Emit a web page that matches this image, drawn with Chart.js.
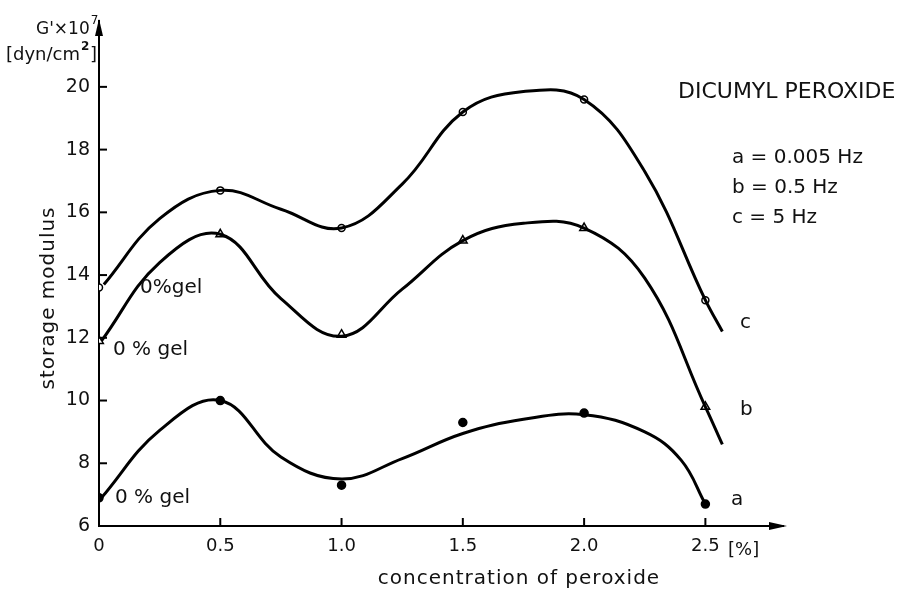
<!DOCTYPE html>
<html>
<head>
<meta charset="utf-8">
<script src="https://cdn.jsdelivr.net/npm/chart.js@4.4.1/dist/chart.umd.min.js"></script>
<style>
html, body { margin: 0; padding: 0; background: #fff; }
</style>
</head>
<body>
<canvas id="chart" width="898" height="590"></canvas>
<script>
// measured points (x = peroxide %, y = G' x 1e7 dyn/cm2)
const concentration = [0, 0.5, 1.0, 1.5, 2.0, 2.5];
const pointsA = [6.9, 10.0, 7.3, 9.3, 9.6, 6.7];
const pointsB = [11.9, 15.3, 12.1, 15.1, 15.5, 9.8];
const pointsC = [13.6, 16.7, 15.5, 19.2, 19.6, 13.2];

// hand drawn curves
const curveAX = [0.01, 0.25, 0.5, 0.75, 1.0, 1.25, 1.5, 1.75, 2.0, 2.25, 2.4, 2.5];
const curveAY = [6.9, 9.05, 10.0, 8.2, 7.5, 8.15, 8.95, 9.4, 9.55, 9.0, 8.1, 6.7];
const curveBX = [0.01, 0.25, 0.5, 0.75, 1.0, 1.25, 1.5, 1.75, 2.0, 2.25, 2.5, 2.57];
const curveBY = [11.9, 14.4, 15.3, 13.25, 12.05, 13.55, 15.1, 15.65, 15.5, 13.9, 9.8, 8.6];
const curveCX = [0.02, 0.25, 0.5, 0.75, 1.0, 1.25, 1.5, 1.75, 2.0, 2.25, 2.5, 2.57];
const curveCY = [13.7, 15.8, 16.7, 16.1, 15.5, 16.9, 19.2, 19.85, 19.6, 17.3, 13.2, 12.2];

const xTicks = [0, 0.5, 1.0, 1.5, 2.0, 2.5];
const xTickLabels = ['0', '0.5', '1.0', '1.5', '2.0', '2.5'];
const yTicks = [6, 8, 10, 12, 14, 16, 18, 20];

const FONT = "'DejaVu Sans', sans-serif";
Chart.defaults.font.family = FONT;
Chart.defaults.color = '#111';

function pairs(xs, ys) {
    return xs.map((x, i) => ({ x: x, y: ys[i] }));
}

function curve(xs, ys) {
    return {
        data: pairs(xs, ys),
        showLine: true,
        borderColor: '#000',
        borderWidth: 3,
        pointRadius: 0,
        tension: 0.4
    };
}

function marks(ys, style, fill, r) {
    return {
        data: pairs(concentration, ys),
        showLine: false,
        pointStyle: style,
        pointRadius: r,
        backgroundColor: fill,
        borderColor: '#000',
        borderWidth: 1.5
    };
}

const extras = {
    id: 'extras',
    afterDraw(chart) {
        const ctx = chart.ctx;
        const area = chart.chartArea;
        const xs = chart.scales.x;
        const ys = chart.scales.y;
        ctx.save();
        ctx.strokeStyle = '#000';
        ctx.fillStyle = '#000';
        ctx.lineWidth = 2;

        // inner ticks
        yTicks.forEach(v => {
            const y = ys.getPixelForValue(v);
            ctx.beginPath();
            ctx.moveTo(area.left, y);
            ctx.lineTo(area.left + 8, y);
            ctx.stroke();
        });
        xTicks.forEach(v => {
            const x = xs.getPixelForValue(v);
            ctx.beginPath();
            ctx.moveTo(x, area.bottom + 1);
            ctx.lineTo(x, area.bottom - 8);
            ctx.stroke();
        });

        // arrows
        ctx.beginPath();
        ctx.moveTo(area.left, area.top - 2);
        ctx.lineTo(area.left - 4, area.top + 15);
        ctx.lineTo(area.left + 4, area.top + 15);
        ctx.fill();
        ctx.beginPath();
        ctx.moveTo(area.right + 4, area.bottom);
        ctx.lineTo(area.right - 14, area.bottom - 4);
        ctx.lineTo(area.right - 14, area.bottom + 4);
        ctx.fill();

        ctx.fillStyle = '#111';
        ctx.textBaseline = 'alphabetic';
        ctx.textAlign = 'left';

        // y unit
        ctx.font = '17px ' + FONT;
        ctx.fillText("G'×10", 36, 34);
        let w = ctx.measureText("G'×10").width;
        ctx.font = '12px ' + FONT;
        ctx.fillText('7', 36 + w + 1, 24);
        ctx.font = '18px ' + FONT;
        ctx.fillText('[dyn/cm', 6, 60);
        w = ctx.measureText('[dyn/cm').width;
        ctx.font = 'bold 12px ' + FONT;
        ctx.fillText('2', 6 + w + 1, 50);
        ctx.font = '18px ' + FONT;
        ctx.fillText(']', 6 + w + 10, 60);

        ctx.textBaseline = 'middle';
        ctx.font = '20px ' + FONT;
        ctx.letterSpacing = '1px';
        // axis titles
        ctx.save();
        ctx.translate(49, 298);
        ctx.rotate(-Math.PI / 2);
        ctx.textAlign = 'center';
        ctx.fillText('storage modulus', 0, 0);
        ctx.restore();

        ctx.textAlign = 'center';
        ctx.fillText('concentration of peroxide', 519, 579);

        ctx.letterSpacing = '0px';
        ctx.textAlign = 'left';
        ctx.font = '18px ' + FONT;
        ctx.fillText('[%]', 728, 550);

        ctx.font = '22px ' + FONT;
        ctx.fillText('DICUMYL PEROXIDE', 678, 92);

        ctx.font = '20px ' + FONT;
        ctx.fillText('a = 0.005 Hz', 732, 158);
        ctx.fillText('b = 0.5 Hz', 732, 188);
        ctx.fillText('c = 5 Hz', 732, 218);

        ctx.fillText('c', 740, 323);
        ctx.fillText('b', 740, 410);
        ctx.fillText('a', 731, 500);

        ctx.fillText('0%gel', 140, 288);
        ctx.fillText('0 % gel', 113, 350);
        ctx.fillText('0 % gel', 115, 498);

        ctx.restore();
    }
};

new Chart(document.getElementById('chart'), {
    type: 'scatter',
    data: {
        datasets: [
            curve(curveAX, curveAY),
            curve(curveBX, curveBY),
            curve(curveCX, curveCY),
            marks(pointsA, 'circle', '#000', 4),
            marks(pointsB, 'triangle', '#fff', 5),
            marks(pointsC, 'circle', '#fff', 3.5)
        ]
    },
    options: {
        responsive: false,
        animation: false,
        devicePixelRatio: 1,
        layout: { padding: { top: 21, right: 115, left: 0, bottom: 0 } },
        plugins: {
            legend: { display: false },
            tooltip: { enabled: false }
        },
        scales: {
            x: {
                type: 'linear',
                min: 0,
                max: 2.82,
                afterBuildTicks: (scale) => { scale.ticks = xTicks.map(v => ({ value: v })); },
                afterFit: (scale) => { scale.height = 64; },
                ticks: {
                    font: { size: 18 },
                    color: '#111',
                    padding: 10,
                    maxRotation: 0,
                    callback: (v) => xTickLabels[xTicks.indexOf(v)]
                },
                grid: { display: false, drawTicks: false },
                border: { display: true, color: '#000', width: 2 }
            },
            y: {
                type: 'linear',
                min: 6,
                max: 22.1,
                afterBuildTicks: (scale) => { scale.ticks = yTicks.map(v => ({ value: v })); },
                afterFit: (scale) => { scale.width = 99; },
                ticks: {
                    font: { size: 19 },
                    color: '#111',
                    padding: 9
                },
                grid: { display: false, drawTicks: false },
                border: { display: true, color: '#000', width: 2 }
            }
        }
    },
    plugins: [extras]
});
</script>
</body>
</html>
